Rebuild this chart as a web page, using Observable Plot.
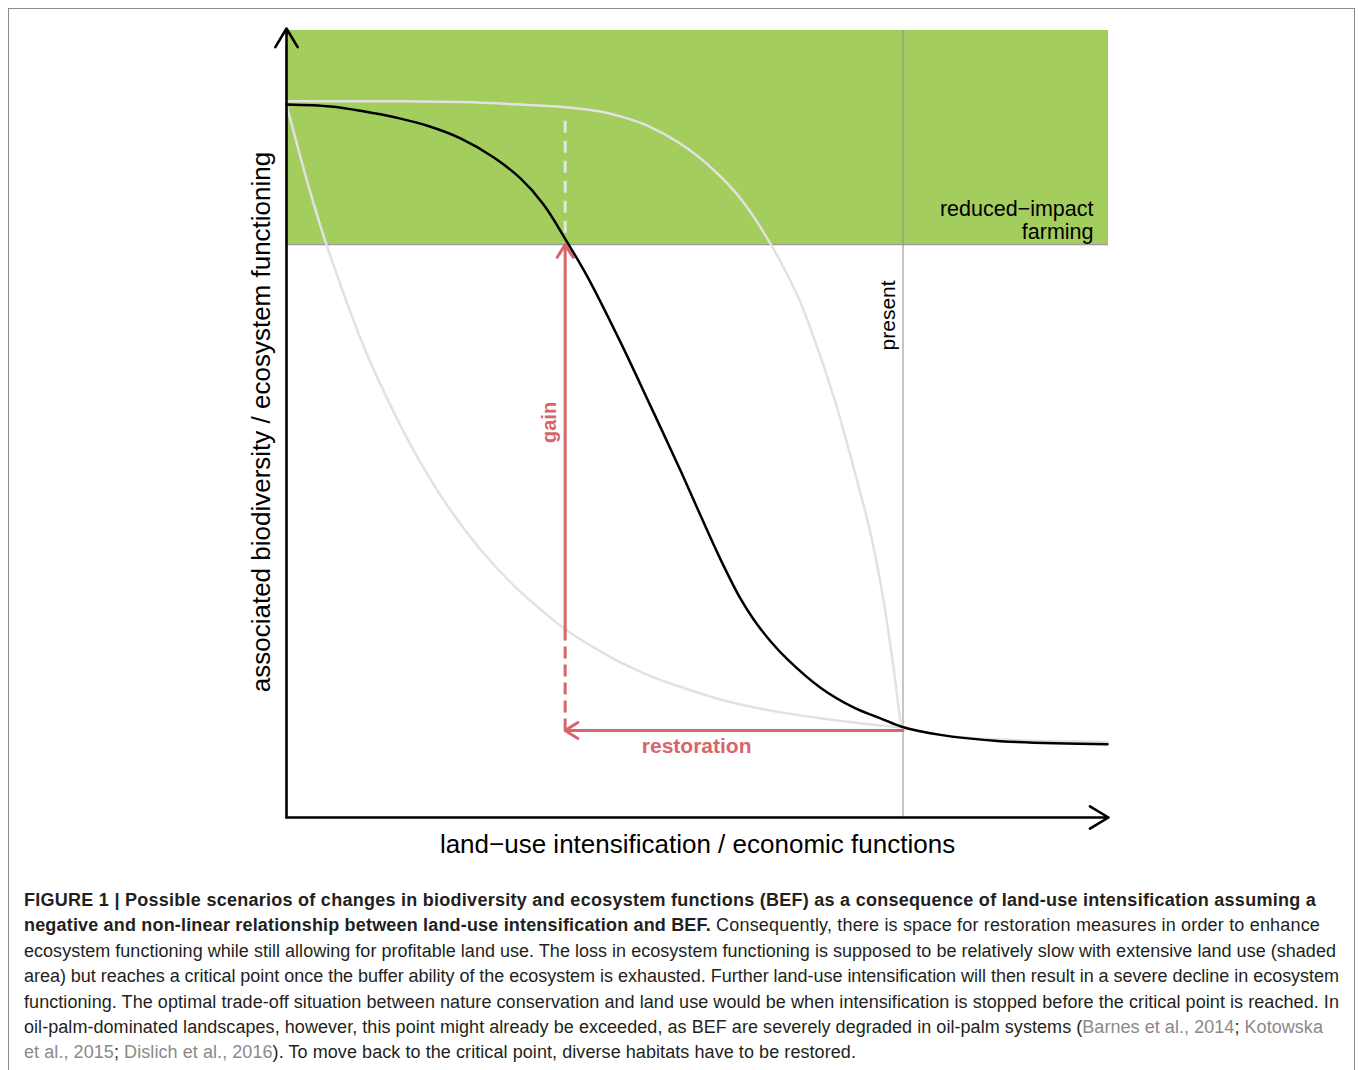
<!DOCTYPE html>
<html>
<head>
<meta charset="utf-8">
<script src="https://cdn.jsdelivr.net/npm/d3@7"></script>
<script src="https://cdn.jsdelivr.net/npm/@observablehq/plot@0.6"></script>
<style>
  html, body { margin: 0; padding: 0; background: #fff; }
  body { width: 1358px; height: 1070px; position: relative; overflow: hidden; font-family: "Liberation Sans", Arial, Helvetica, sans-serif; }
  #frame { position: absolute; left: 8px; top: 8px; width: 1347px; height: 1100px; border: 1px solid #8c8c8c; box-sizing: border-box; }
  #chart { position: absolute; left: 0; top: 0; }
  #caption { position: absolute; left: 24px; top: 888px; font-size: 18px; color: #231f20; }
  #caption .ln { height: 25.4px; line-height: 25.4px; white-space: nowrap; }
  #caption b { font-weight: bold; }
  #caption .ref { color: #8a8a8a; }
</style>
</head>
<body>
<div id="frame"></div>
<div id="chart"></div>
<div id="caption"></div>
<script>
// ---- data (x: land-use intensification 0–100, y: biodiversity/EF 0–100) ----
const blackX = [0, 5.35, 9.00, 13.87, 17.15, 21.17, 25.18, 28.47, 31.27, 34.18, 36.62, 40.63, 44.28, 47.93, 50.36, 52.80, 55.23, 56.81, 58.88, 60.95, 64.96, 68.98, 72.26, 74.94, 79.56, 86.86, 99.88];
const blackY = [90.6, 90.35, 89.8, 88.8, 87.9, 86.3, 83.9, 81.2, 77.9, 73.05, 68.7, 60.4, 52.3, 44.1, 38.4, 32.8, 27.8, 25.2, 22.4, 20.1, 16.5, 14.0, 12.6, 11.5, 10.5, 9.7, 9.3];

const upperX = [0, 13.87, 21.17, 28.47, 33.33, 35.77, 38.20, 41.24, 43.92, 47.93, 51.95, 55.23, 58.88, 62.17, 64.11, 66.79, 68.98, 71.05, 72.63, 73.84, 74.70, 74.94];
const upperY = [91.0, 91.0, 90.9, 90.6, 90.3, 90.05, 89.7, 88.9, 87.9, 85.6, 82.3, 78.65, 72.9, 66.3, 61.1, 52.7, 44.5, 36.1, 27.6, 19.1, 12.3, 11.4];

const tailX = [74.94, 79.56, 86.86, 99.88];      // shared low plateau of both grey scenarios
const tailY = [11.4, 10.5, 9.9, 9.6];

const lowerX = [0, 1.70, 3.16, 4.50, 5.96, 7.42, 9.61, 11.44, 13.87, 16.30, 19.59, 23.60, 27.62, 31.75, 33.94, 38.20, 40.63, 44.65, 48.78, 52.80, 56.81, 64.96, 74.94];
const lowerY = [90.6, 83.9, 78.5, 73.95, 69.5, 65.2, 59.3, 55.0, 49.8, 45.1, 39.6, 34.05, 29.5, 25.7, 23.9, 21.1, 19.7, 17.8, 16.3, 15.0, 14.0, 12.6, 11.4];

const zoneX = [0, 100];          // shaded "reduced-impact farming" band
const zoneY = [72.8, 100];
const presentX = 75;             // "present" intensification
const gainX = 33.9;              // critical point intensity
const restorationY = 11.05;      // level of the restoration arrow
const gainDashTop = 23.9;        // where the gain arrow becomes solid
const whiteDashTop = 89.2;

const xLabel = "land\u2212use intensification / economic functions";
const yLabel = "associated biodiversity / ecosystem functioning";
const zoneLabel = "reduced\u2212impact\nfarming";
const zoneLabelY = 75.9;
const presentLabel = "present";
const presentLabelY = 63.8;
const gainLabel = "gain";
const gainLabelY = 50.2;
const restorationLabel = "restoration";
const restorationLabelX = 49.9;
const restorationLabelY = 9.0;

const captionLines = [
  [["b", "FIGURE 1 | Possible scenarios of changes in biodiversity and ecosystem functions (BEF) as a consequence of land-use intensification assuming a"]],
  [["b", "negative and non-linear relationship between land-use intensification and BEF."], ["t", " Consequently, there is space for restoration measures in order to enhance"]],
  [["t", "ecosystem functioning while still allowing for profitable land use. The loss in ecosystem functioning is supposed to be relatively slow with extensive land use (shaded"]],
  [["t", "area) but reaches a critical point once the buffer ability of the ecosystem is exhausted. Further land-use intensification will then result in a severe decline in ecosystem"]],
  [["t", "functioning. The optimal trade-off situation between nature conservation and land use would be when intensification is stopped before the critical point is reached. In"]],
  [["t", "oil-palm-dominated landscapes, however, this point might already be exceeded, as BEF are severely degraded in oil-palm systems ("], ["r", "Barnes et al., 2014"], ["t", "; "], ["r", "Kotowska"]],
  [["r", "et al., 2015"], ["t", "; "], ["r", "Dislich et al., 2016"], ["t", "). To move back to the critical point, diverse habitats have to be restored."]]
];
const captionWidths = [1292, 1296, 1312, 1315, 1315, 1299, 832];

// ---- build ----
const rows = (xs, ys) => xs.map((x, i) => ({x, y: ys[i]}));
const green = "#a3cd5c";
const red = "#d9656a";
const gray = "#e2e2e2";

const chart = Plot.plot({
  width: 1358,
  height: 870,
  marginLeft: 286,
  marginRight: 250,
  marginTop: 30,
  marginBottom: 53,
  x: {domain: [0, 100], axis: null},
  y: {domain: [0, 100], axis: null},
  style: {fontFamily: "'Liberation Sans', Arial, Helvetica, sans-serif", background: "transparent", overflow: "visible"},
  marks: [
    Plot.rect([0], {x1: zoneX[0], x2: zoneX[1], y1: zoneY[0], y2: zoneY[1], fill: green}),
    Plot.ruleY([zoneY[0]], {x1: zoneX[0], x2: zoneX[1], stroke: "#9a9a9a", strokeWidth: 1.3}),
    Plot.ruleX([presentX], {y1: 0, y2: 100, stroke: "#8c8c8c", strokeWidth: 1}),
    Plot.line(rows(upperX, upperY), {x: "x", y: "y", stroke: gray, strokeWidth: 2.5, curve: "catmull-rom"}),
    Plot.line(rows(lowerX, lowerY), {x: "x", y: "y", stroke: gray, strokeWidth: 2.5, curve: "catmull-rom"}),
    Plot.line(rows(tailX, tailY), {x: "x", y: "y", stroke: gray, strokeWidth: 2.5, curve: "catmull-rom"}),
    Plot.link([0], {x1: gainX, x2: gainX, y1: zoneY[0] + 1.5, y2: whiteDashTop, stroke: "#e4e4e4", strokeWidth: 3, strokeDasharray: "12,8"}),
    Plot.link([0], {x1: gainX, x2: gainX, y1: restorationY, y2: gainDashTop, stroke: red, strokeWidth: 3, strokeDasharray: "12,6"}),
    Plot.arrow([0], {x1: gainX, x2: gainX, y1: gainDashTop, y2: zoneY[0], stroke: red, strokeWidth: 3, headLength: 7.5, headAngle: 64}),
    Plot.arrow([0], {x1: presentX, x2: gainX, y1: restorationY, y2: restorationY, stroke: red, strokeWidth: 3, headLength: 7.5, headAngle: 64}),
    Plot.line(rows(blackX, blackY), {x: "x", y: "y", stroke: "#000", strokeWidth: 2.5, curve: "catmull-rom"}),
    Plot.arrow([0], {x1: 0, x2: 0, y1: 0, y2: 100.25, stroke: "#000", strokeWidth: 2.6, headLength: 12.5, headAngle: 62}),
    Plot.arrow([0], {x1: 0, x2: 100, y1: 0, y2: 0, stroke: "#000", strokeWidth: 2.6, headLength: 12.5, headAngle: 62}),
    Plot.text([xLabel], {frameAnchor: "bottom", textAnchor: "middle", lineAnchor: "middle", dy: 27, fontSize: 26, fill: "#000"}),
    Plot.text([yLabel], {frameAnchor: "left", textAnchor: "middle", lineAnchor: "middle", rotate: -90, dx: -25, dy: -2, fontSize: 26, fill: "#000"}),
    Plot.text([zoneLabel], {x: zoneX[1], y: zoneLabelY, dx: -15, textAnchor: "end", fontSize: 21.5, lineHeight: 1.05, fill: "#000"}),
    Plot.text([presentLabel], {x: presentX, y: presentLabelY, dx: -15, rotate: -90, fontSize: 21, fill: "#000"}),
    Plot.text([gainLabel], {x: gainX, y: gainLabelY, dx: -16, rotate: -90, fontSize: 20, fontWeight: "bold", fill: red}),
    Plot.text([restorationLabel], {x: restorationLabelX, y: restorationLabelY, fontSize: 21, fontWeight: "bold", fill: red})
  ]
});
document.getElementById("chart").appendChild(chart);

// caption
const cap = document.getElementById("caption");
captionLines.forEach((parts, i) => {
  const ln = document.createElement("div");
  ln.className = "ln";
  const inner = document.createElement("span");
  parts.forEach(([k, s]) => {
    const el = document.createElement(k === "b" ? "b" : "span");
    if (k === "r") el.className = "ref";
    el.textContent = s;
    inner.appendChild(el);
  });
  ln.appendChild(inner);
  cap.appendChild(ln);
  const target = captionWidths[i];
  if (target) {
    const w = inner.getBoundingClientRect().width;
    const n = inner.textContent.length;
    inner.style.letterSpacing = ((target - w) / n) + "px";
  }
});
</script>
</body>
</html>
